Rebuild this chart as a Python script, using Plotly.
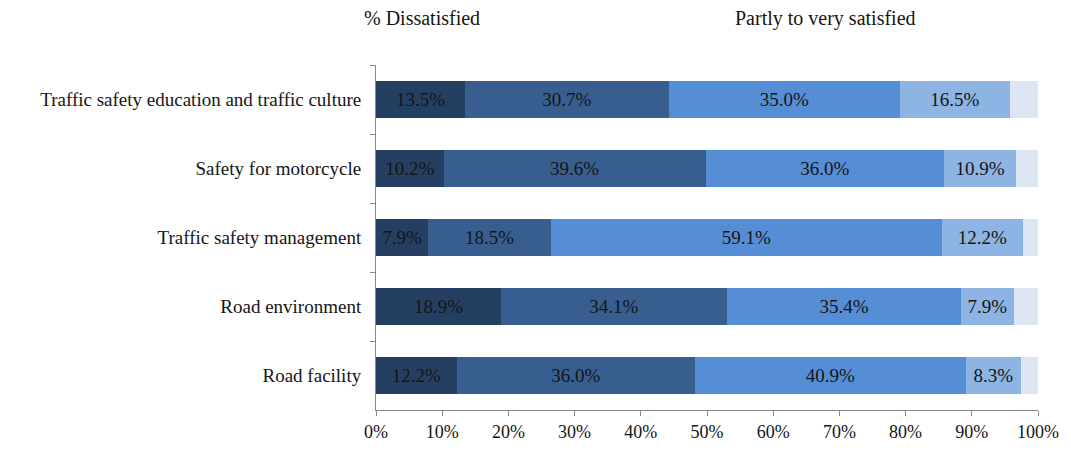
import plotly.graph_objects as go

categories = ["Traffic safety education and traffic culture", "Safety for motorcycle",
              "Traffic safety management", "Road environment", "Road facility"]
seg1 = [13.5, 10.2, 7.9, 18.9, 12.2]
seg2 = [30.7, 39.6, 18.5, 34.1, 36.0]
seg3 = [35.0, 36.0, 59.1, 35.4, 40.9]
seg4 = [16.5, 10.9, 12.2, 7.9, 8.3]
seg5 = [4.3, 3.3, 2.3, 3.7, 2.6]
tick_vals = [0, 10, 20, 30, 40, 50, 60, 70, 80, 90, 100]
tick_text = [f"{v}%" for v in tick_vals]

colors = ["#253F62", "#385E8F", "#558ED5", "#8EB4E3", "#DCE6F2"]
series = [seg1, seg2, seg3, seg4, seg5]
font_family = "Liberation Serif, Times New Roman, serif"
txt = "#151515"

fig = go.Figure()
for i, (vals, col) in enumerate(zip(series, colors)):
    fig.add_trace(go.Bar(
        y=categories, x=vals, orientation="h",
        marker=dict(color=col, line=dict(width=0)),
        text=[f"{v:.1f}%" for v in vals] if i < 4 else None,
        textposition="inside" if i < 4 else "none",
        insidetextanchor="middle", textangle=0,
        textfont=dict(family=font_family, size=19, color=txt),
        hoverinfo="skip", showlegend=False,
    ))

fig.update_layout(
    barmode="stack", bargap=0.455,
    width=1071, height=454,
    margin=dict(l=376, r=27, t=65, b=32),
    paper_bgcolor="white", plot_bgcolor="white",
    font=dict(family=font_family, size=18, color=txt),
    uniformtext=dict(minsize=14, mode="show"),
    showlegend=False,
)
fig.update_xaxes(
    range=[0, 100], tickvals=tick_vals, ticktext=tick_text,
    showgrid=False, zeroline=False, showline=True, linecolor="#888888", linewidth=1,
    ticks="outside", ticklen=5, tickcolor="#888888",
    tickfont=dict(family=font_family, size=18, color=txt),
)
fig.update_yaxes(
    autorange="reversed", showgrid=False, zeroline=False,
    showline=True, linecolor="#888888", linewidth=1,
    ticks="outside", tickson="boundaries", ticklen=5, tickcolor="#888888",
    tickfont=dict(family=font_family, size=19, color=txt),
    ticklabelstandoff=10,
)
fig.add_annotation(text="% Dissatisfied", xref="paper", yref="paper", x=-0.021, y=1.0, yshift=47,
                   xanchor="left", yanchor="middle", showarrow=False,
                   font=dict(family=font_family, size=20, color=txt))
fig.add_annotation(text="Partly to very satisfied", xref="paper", yref="paper", x=0.539, y=1.0, yshift=47,
                   xanchor="left", yanchor="middle", showarrow=False,
                   font=dict(family=font_family, size=20, color=txt))

fig.write_html("out.html")
